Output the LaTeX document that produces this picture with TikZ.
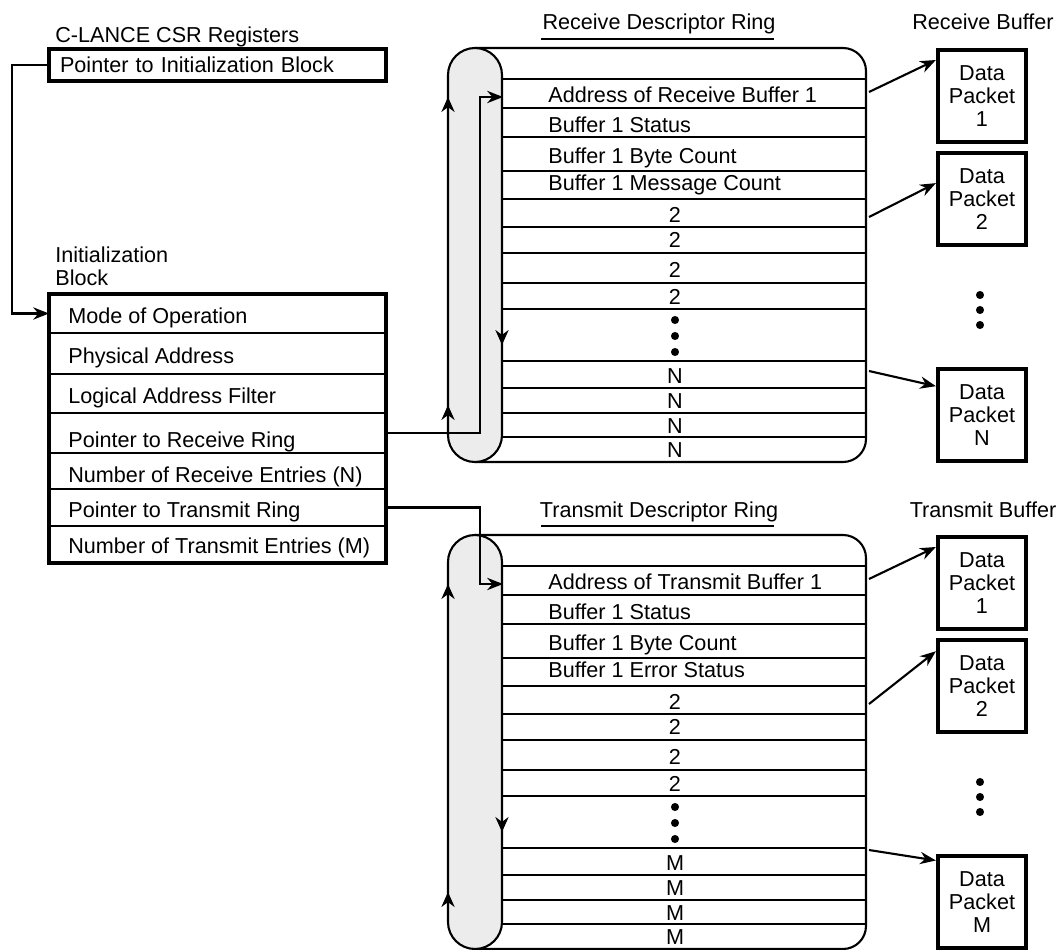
\documentclass[tikz,border=0pt]{standalone}
\usepackage{fontspec}
\setmainfont{Liberation Sans}
\usetikzlibrary{arrows.meta}
\definecolor{ringgray}{RGB}{236,236,236}
\tikzset{
  ptr/.style={line width=1.2pt, -{Stealth[length=9pt,width=7pt]}},
  flow/.style={line width=1.2pt, -{Stealth[length=8.5pt,width=7.5pt]}},
  regbox/.style={draw, line width=2.4pt, minimum width=6.74cm, minimum height=0.64cm, inner xsep=0.22cm, inner ysep=0pt, text width=6.3cm, align=left},
  ibrow/.style={draw, line width=1.3pt, minimum width=6.74cm, inner sep=0pt, outer sep=0pt},
  lefttext/.style={inner sep=0pt, anchor=base west},
  midtext/.style={inner sep=0pt, anchor=base},
  pktbox/.style={draw, line width=2.4pt, minimum width=1.76cm, minimum height=1.84cm, align=center, inner sep=0pt},
}
\begin{document}
\begin{tikzpicture}[x=0.02cm, y=-0.02cm, font=\fontsize{12.3}{13.3}\selectfont]
\useasboundingbox (0,0) rectangle (1059,950);

% CSR register
\node[lefttext] (csrtitle) at (55,42) {C-LANCE CSR Registers};
\node[regbox] (csr) at (217.5,65) {Pointer to Initialization Block};

% initialization block
\node[lefttext, anchor=north west, align=left] (ibtitle) at (55,246) {Initialization\\Block};
\foreach \i/\ya/\yb/\yt/\lbl in {1/294/333/323/Mode of Operation,
                                 2/333/374/363/Physical Address,
                                 3/374/413/403/Logical Address Filter,
                                 4/413/453/447/Pointer to Receive Ring,
                                 5/453/489/482/Number of Receive Entries (N),
                                 6/489/526/517/Pointer to Transmit Ring,
                                 7/526/563/553/Number of Transmit Entries (M)}
  {
    \node[ibrow, minimum height={(\yb-\ya)*0.02cm}] (ib\i) at (217.5,{(\ya+\yb)/2}) {};
    \node[lefttext] (ibtext\i) at (68,\yt) {\lbl};
  }
\draw[line width=2.4pt] (ib1.north west) rectangle (ib7.south east);

\coordinate (csrbend) at (12,65);
\draw[ptr] (csr.west) -- (csrbend) |- (ib1.west);

% descriptor rings and buffers
\foreach \dy/\kind/\last/\ltr/\p/\src/\atwo/\ythree/\athree in
   {0/Receive/Message Count/N/r/ib4/161/371/148,
    487/Transmit/Error Status/M/t/ib6/143/363/138}
{
\begin{scope}[shift={(0,\dy)}]
  \node[midtext] (\p title) at (659,30) {\kind\ Descriptor Ring};
  \draw[line width=1.2pt] (541,39) -- (774,39);
  \node[midtext] (\p buftitle) at (983,30) {\kind\ Buffer};

  \draw[line width=1.2pt, rounded corners=0.46cm] (475,48) -- (866,48) -- (866,462) -- (475,462);
  \filldraw[fill=ringgray, line width=1.2pt, rounded corners=0.54cm] (448,48) rectangle (502,462);
  \foreach \ys in {79,108,137,171,199,227,253,283,309,361,388,413,437}
    \draw[line width=1.2pt] (502,\ys) -- (866,\ys);

  \foreach \yb/\lbl in {102/Address of \kind\ Buffer 1, 132/Buffer 1 Status,
                        163/Buffer 1 Byte Count, 190/Buffer 1 \last}
    \node[lefttext] (\p lbl\yb) at (548,\yb) {\lbl};
  \foreach \yb in {222,247,277,304}
    \node[midtext] (\p two\yb) at (675,\yb) {2};
  \foreach \yb in {383,408,433,457}
    \node[midtext] (\p last\yb) at (675,\yb) {\ltr};
  \foreach \yd in {320,336,352}
    \fill (675,\yd) circle (2.3pt);

  % direction round the ring
  \draw[flow] (448,116) -- (448,97);
  \draw[flow] (448,424) -- (448,405);
  \draw[flow] (502,326) -- (502,345);

  % pointer from the init block
  \coordinate (\p turn) at (480,97);
  \coordinate (\p in) at (503,97);
  \draw[ptr] (\src.east) -| (\p turn) -- (\p in);

  % buffers
  \node[pktbox] (\p buf1) at (982,96) {Data\\Packet\\1};
  \node[pktbox] (\p buf2) at (982,199) {Data\\Packet\\2};
  \node[pktbox] (\p buf3) at (982,415) {Data\\Packet\\\ltr};
  \foreach \yd in {295,310,325}
    \fill (980,\yd) circle (2.3pt);

  \coordinate (\p out1) at (869,92);
  \coordinate (\p out2) at (869,217);
  \coordinate (\p out3) at (869,\ythree);
  \draw[ptr] (\p out1) -- (\p buf1.142);
  \draw[ptr] (\p out2) -- (\p buf2.\atwo);
  \draw[ptr] (\p out3) -- (\p buf3.\athree);
\end{scope}
}
\end{tikzpicture}
\end{document}
